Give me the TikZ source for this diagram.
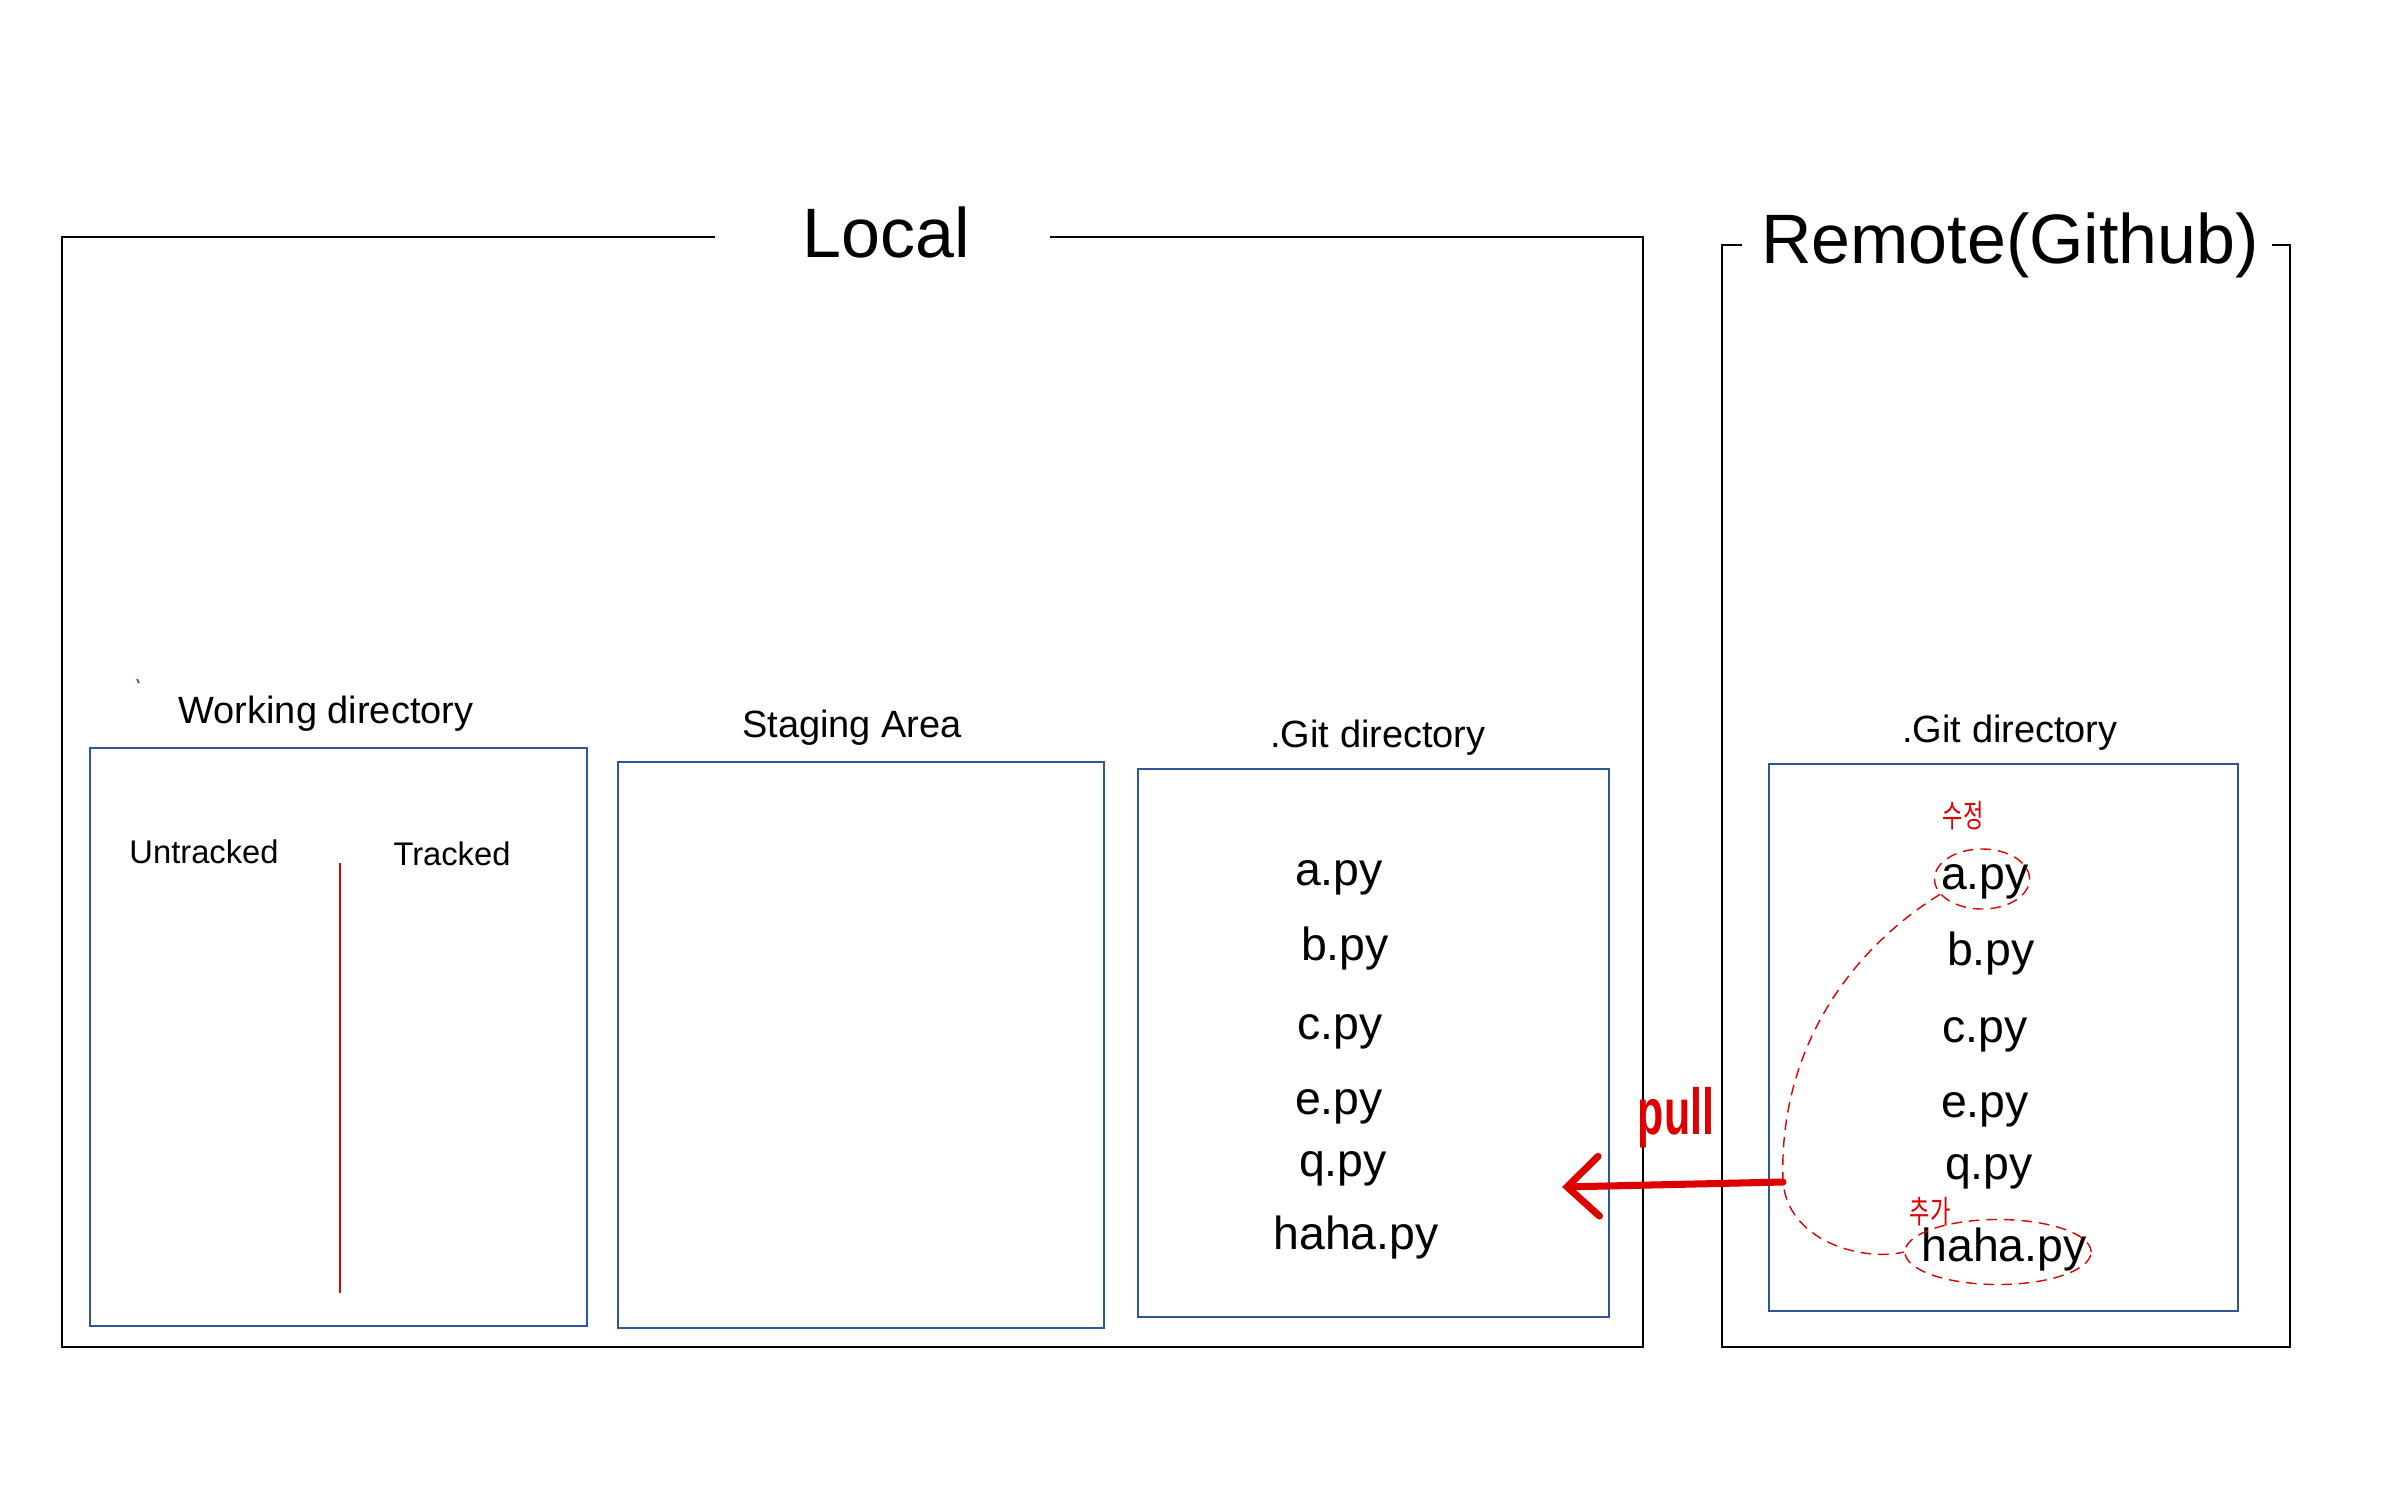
\documentclass[tikz,border=0pt]{standalone}
\usepackage{fontspec}
\setmainfont{Liberation Sans}
\newfontfamily\krhand{Noto Sans CJK KR}
\usetikzlibrary{arrows.meta,shapes.geometric}
\definecolor{boxblue}{RGB}{46,86,152}
\definecolor{penred}{RGB}{222,0,0}

\begin{document}
\begin{tikzpicture}[x=0.01cm,y=-0.01cm,
    outerframe/.style={draw=black,line width=0.6pt},
    gitbox/.style={draw=boxblue,line width=0.6pt,inner sep=0pt},
    bigtitle/.style={anchor=base,inner sep=0pt,font=\fontsize{19.9}{22}\selectfont},
    boxname/.style={anchor=base,inner sep=0pt,font=\fontsize{10.8}{13}\selectfont},
    trackname/.style={anchor=base,inner sep=0pt,font=\fontsize{9.3}{11}\selectfont},
    pyfile/.style={anchor=base,inner sep=0pt,font=\fontsize{13.2}{15}\selectfont},
    handnote/.style={text=penred,inner sep=0pt,font=\krhand\fontsize{9}{10}\selectfont},
    ring/.style={ellipse,draw=penred,dash pattern=on 3pt off 2pt,line width=0.4pt,inner sep=0pt},
    handdash/.style={draw=penred,dash pattern=on 3pt off 2pt,line width=0.4pt}]
  \useasboundingbox (0,0) rectangle (2386,1491);

  % titles and frames
  \node[bigtitle] (localT) at (886,257) {Local};
  \node[bigtitle] (remoteT) at (2010,263) {Remote(Github)};
  \draw[outerframe] (715,237) -| (62,1347) -| (1643,237) -- (1050,237);
  \draw[outerframe] (1742,245) -| (1722,1347) -| (2290,245) -- (2272,245);

  % the four areas
  \node[gitbox,minimum width=4.97cm,minimum height=5.78cm] (wd) at (338.5,1037) {};
  \node[gitbox,minimum width=4.86cm,minimum height=5.66cm] (stage) at (861,1045) {};
  \node[gitbox,minimum width=4.71cm,minimum height=5.48cm] (lgit) at (1373.5,1043) {};
  \node[gitbox,minimum width=4.69cm,minimum height=5.47cm] (rgit) at (2003.5,1037.5) {};

  \node[boxname] (wdT) at (326,723) {Working directory};
  \node[boxname] (stageT) at (852,737) {Staging Area};
  \node[boxname] (lgitT) at (1378,747) {.Git directory};
  \node[boxname] (rgitT) at (2010,742) {.Git directory};
  \draw[boxblue,line width=0.5pt] (137,679) -- (139,683);

  % working directory split
  \node[trackname] (untracked) at (204,863) {Untracked};
  \node[trackname] (tracked) at (452,865) {Tracked};
  \draw[penred,line width=0.6pt] (340,863) -- (340,1293);

  % files
  \foreach \f/\x/\y [count=\i] in {a/1339/885,b/1345/960,c/1340/1039,e/1339/1114,q/1343/1176,haha/1356/1249}{
    \node[pyfile] (lf\i) at (\x,\y) {\f.py};
  }
  \foreach \f/\x/\y [count=\i] in {a/1985/889,b/1991/965,c/1985/1042,e/1985/1117,q/1989/1179,haha/2004/1261}{
    \node[pyfile] (rf\i) at (\x,\y) {\f.py};
  }

  % pen notes
  \node[ring,minimum width=9.5mm,minimum height=6mm] (ringA) at (1982,879) {};
  \node[ring,minimum width=18.6mm,minimum height=6.5mm] (ringH) at (1998,1252) {};
  \node[handnote] (fixnote) at (1963,816) {\scalebox{0.7}[1]{수정}};
  \node[handnote] (addnote) at (1930,1212) {\scalebox{0.7}[1]{추가}};
  \coordinate (hub) at (1783,1182);
  \coordinate (pullend) at (1562,1187);
  \draw[handdash] (ringA.200) .. controls (1850,950) and (1778,1050) .. (hub)
    .. controls (1788,1240) and (1860,1262) .. (ringH.west);
  \draw[penred,line width=2pt,line cap=round,-{Straight Barb[length=9pt,width=17pt,line cap=round]}] (hub) -- (pullend);
  \node[text=penred,inner sep=0pt,font=\bfseries\fontsize{18.5}{20}\selectfont] (pull) at (1676,1118) {\scalebox{0.66}[1]{pull}};
\end{tikzpicture}
\end{document}
